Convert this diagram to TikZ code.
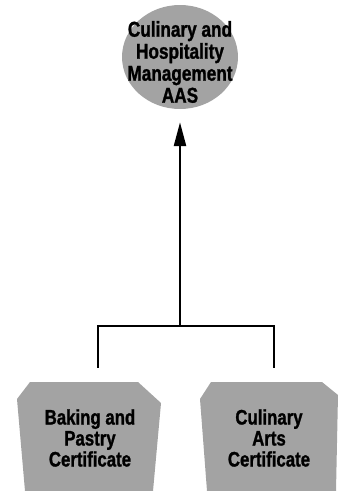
\documentclass[tikz,border=0pt]{standalone}
\usepackage{fontspec}
\newfontfamily\chartfont{Liberation Sans Bold}[FakeStretch=0.8, FakeBold=1.2]
\usetikzlibrary{arrows.meta, shapes.geometric}

\begin{document}
\begin{tikzpicture}[x=1pt, y=-1pt,
    chartfill/.style={fill=black!36},
    degreetext/.style={font=\chartfont\fontsize{21.5}{22}\selectfont, align=center, inner sep=0pt},
    certtext/.style={font=\chartfont\fontsize{21}{21}\selectfont, align=center, inner sep=0pt, minimum height=112pt},
    link/.style={line width=2.5pt}]
    \useasboundingbox (0, 0) rectangle (344, 491);

    % The degree
    \node[ellipse, chartfill, inner sep=0pt, minimum width=116pt, minimum height=104pt] (aas) at (180, 57) {};
    \node[degreetext] (aastext) at (180, 62) {Culinary and\\Hospitality\\Management\\AAS};

    % The certificates
    \fill[chartfill] (30, 382) -- (138, 382) -- (161, 403) -- (153, 491) -- (25, 491) -- (17, 399) -- cycle;
    \fill[chartfill] (211, 382) -- (322, 382) -- (338, 395) -- (336, 491) -- (207, 491) -- (200, 399) -- cycle;
    \node[certtext] (baking) at (90, 438) {Baking and\\Pastry\\Certificate};
    \node[certtext] (culinary) at (269, 438) {Culinary\\Arts\\Certificate};

    % Connectors
    \coordinate (join) at (180, 326);
    \draw[link, shorten <=14pt, shorten >=14pt] ([xshift=8pt]baking.north) |- (join) -| ([xshift=5pt]culinary.north);
    \draw[link, -{Triangle[length=24pt, width=12pt]}, shorten >=13pt] (join) -- (aas.south);
\end{tikzpicture}
\end{document}
